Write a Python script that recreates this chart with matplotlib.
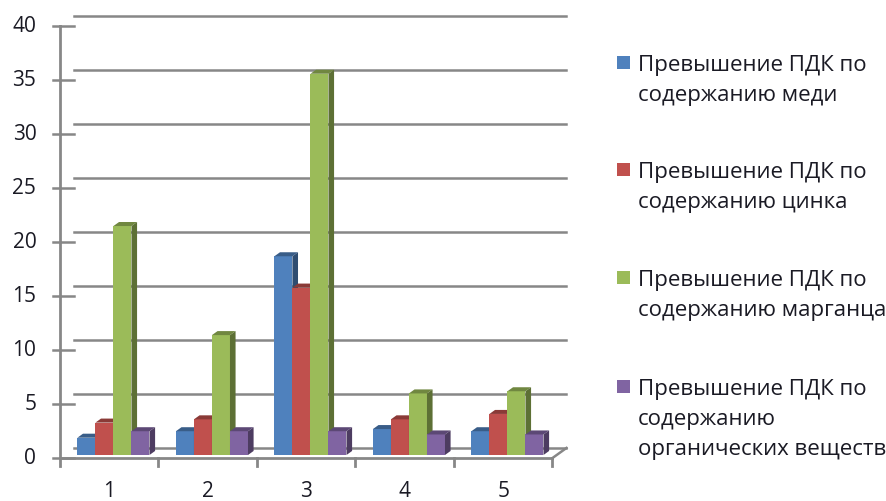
import numpy as np
import matplotlib.pyplot as plt
from matplotlib.patches import Polygon, Rectangle
from matplotlib.colors import to_rgb

# Превышение ПДК по пунктам отбора проб
categories = ['1', '2', '3', '4', '5']
med = [1.6, 2.2, 18.4, 2.4, 2.2]
cink = [3.0, 3.3, 15.5, 3.3, 3.8]
marganec = [21.2, 11.1, 35.3, 5.7, 5.9]
organika = [2.2, 2.2, 2.2, 1.9, 1.9]

series = [med, cink, marganec, organika]
labels = ['Превышение ПДК по\nсодержанию меди',
          'Превышение ПДК по\nсодержанию цинка',
          'Превышение ПДК по\nсодержанию марганца',
          'Превышение ПДК по\nсодержанию\nорганических веществ']
colors = ['#4F81BD', '#C0504D', '#9BBB59', '#8064A2']
yticks = [0, 5, 10, 15, 20, 25, 30, 35, 40]

FONT = 'Open Sans'
TXT = '#1a1a24'
GRID = '#878787'

# глубина "объёма" диаграммы в единицах данных
dx, dy = 0.142, 0.93
bar_w = 0.183
front, back = 0.3, 0.7


def shade(c, k):
    r, g, b = to_rgb(c)
    return (r * k, g * k, b * k)


fig = plt.figure(figsize=(8.87, 5.01), dpi=100)
ax = fig.add_axes([0, 0, 1, 1])
ax.set_xlim(-60 / 98.5, (887 - 60) / 98.5)
ax.set_ylim((458 - 501) / 10.8, 458 / 10.8)
ax.axis('off')

n = len(categories)

# задняя стенка и левая стенка
for v in yticks:
    ax.plot([dx, n + dx], [v + dy, v + dy], color=GRID, lw=1.8, zorder=1)
    ax.plot([0, dx], [v, v], color=GRID, lw=1.8, zorder=1)
    ax.plot([-0.07, 0], [v, v], color=GRID, lw=1.8, zorder=1)
    ax.text(-0.24, v, str(v), ha='right', va='center', fontsize=15,
            family=FONT, color=TXT)

# оси
ax.plot([0, 0], [0, yticks[-1]], color=GRID, lw=2, zorder=1)
ax.plot([0, n], [0, 0], color=GRID, lw=2, zorder=1)
ax.plot([n, n + dx], [0, dy], color=GRID, lw=1.8, zorder=1)
for i in range(n + 1):
    ax.plot([i, i], [0, -0.75], color=GRID, lw=2, zorder=1)
for i, c in enumerate(categories):
    ax.text(i + 0.5, -3.1, c, ha='center', va='center', fontsize=15,
            family=FONT, color=TXT)

# столбцы
group_w = bar_w * len(series)
for i in range(n):
    x0 = i + 0.5 - group_w / 2 + front * dx
    base = front * dy
    for j, vals in enumerate(series):
        xl = x0 + j * bar_w
        xr = xl + bar_w
        top = base + vals[i]
        z = 2 + i * 10 + j
        ax.bar(xl, vals[i], width=bar_w, bottom=base, align='edge',
               color=colors[j], linewidth=0, zorder=z)
        ddx, ddy = (back - front) * dx, (back - front) * dy
        ax.add_patch(Polygon([(xl, top), (xr, top), (xr + ddx, top + ddy),
                              (xl + ddx, top + ddy)], closed=True,
                             facecolor=shade(colors[j], 0.72), lw=0, zorder=z))
        ax.add_patch(Polygon([(xr, base), (xr + ddx, base + ddy),
                              (xr + ddx, top + ddy), (xr, top)], closed=True,
                             facecolor=shade(colors[j], 0.6), lw=0, zorder=z))

# легенда
legend_y = [63, 170, 278, 387]
for lab, col, y in zip(labels, colors, legend_y):
    fig.patches.append(Rectangle((617 / 887, 1 - (y + 6) / 501), 13 / 887, 13 / 501,
                                 transform=fig.transFigure, facecolor=col,
                                 lw=0))
    fig.text(638 / 887, 1 - (y - 8) / 501, lab, ha='left', va='top',
             fontsize=16, family=FONT, color=TXT, linespacing=1.55)

fig.savefig('out.png', dpi=100)
